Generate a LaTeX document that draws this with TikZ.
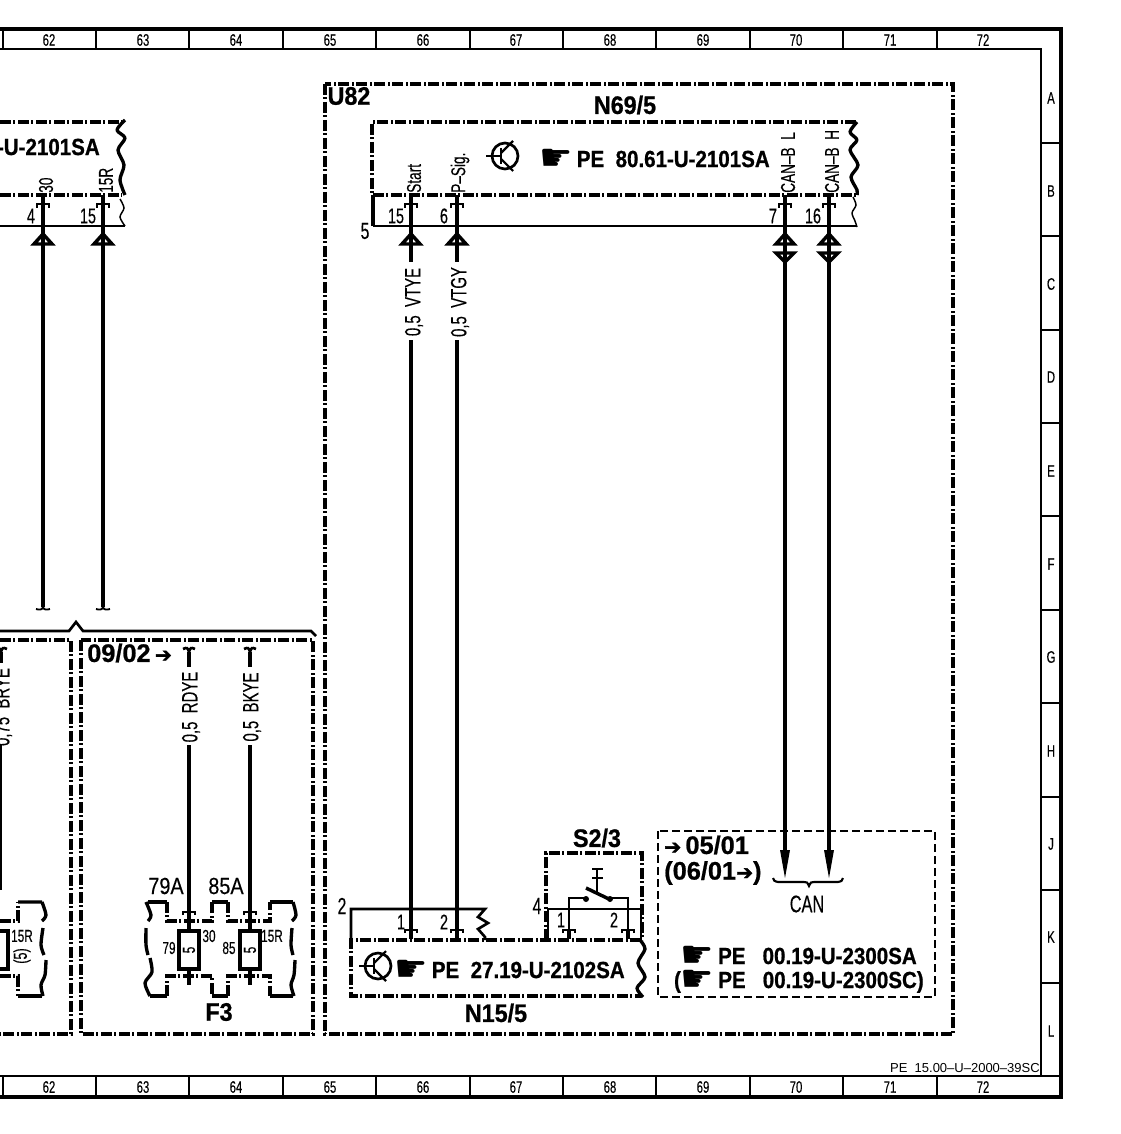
\documentclass[tikz,border=0pt]{standalone}
\usepackage{fontspec}
\setmainfont[FakeStretch=.88,BoldFeatures={FakeBold=.8}]{Liberation Sans}
\newfontfamily\thinfont[FakeStretch=.68,FakeBold=.25]{Liberation Sans}
\newfontfamily\midfont[FakeStretch=.85,FakeBold=.25]{Liberation Sans}
\newfontfamily\widefont{Liberation Sans}
\newfontfamily\titlefont[FakeStretch=.92,BoldFeatures={FakeBold=.8}]{Liberation Sans}
\newfontfamily\sheetfont[BoldFeatures={FakeBold=.8}]{Liberation Sans}
\newfontfamily\handfont[Scale=1.6]{DejaVu Sans}
\newfontfamily\pointfont[Scale=.8,FakeBold=2]{DejaVu Sans}
\newcommand{\handsign}{\smash{\raisebox{-2.5pt}{\handfont ☛}}}
\newcommand{\ptarrow}{\smash{\pointfont ➔}}
\tikzset{
  frameline/.style={line width=2.6pt},
  innerline/.style={line width=1.9pt},
  boxline/.style={line width=2.6pt,dash pattern=on 8pt off 2pt on 1.5pt off 2pt},
  dashbox/.style={line width=2.2pt,dash pattern=on 6pt off 3pt},
  wire/.style={line width=2.6pt},
  bus/.style={line width=2pt},
  hair/.style={line width=.8pt},
  wavy/.style={line width=2.5pt,line join=round},
  tag/.style={inner sep=0pt,font=\thinfont\fontsize{16}{16}\selectfont},
  gridtag/.style={inner sep=0pt,font=\thinfont\fontsize{12.5}{12.5}\selectfont},
  smalltag/.style={inner sep=0pt,font=\thinfont\fontsize{13}{13}\selectfont},
  bigtag/.style={inner sep=0pt,font=\midfont\fontsize{17.5}{17.5}\selectfont},
  pintag/.style={inner sep=0pt,rotate=90,anchor=west,font=\thinfont\fontsize{15}{15}\selectfont},
  wiretag/.style={inner sep=2pt,rotate=90,font=\thinfont\fontsize{16.5}{16.5}\selectfont},
  titletag/.style={inner sep=0pt,font=\titlefont\bfseries\fontsize{19}{19}\selectfont},
  sheettag/.style={inner sep=0pt,font=\sheetfont\bfseries\fontsize{19}{19}\selectfont},
  reftag/.style={inner sep=0pt,font=\bfseries\fontsize{17.5}{17.5}\selectfont},
  pintop/.pic={
    \draw[wire] (0,-9) -- (0,0);
    \draw[line width=2.2pt] (-6,4) -- (-6,0) -- (6,0) -- (6,4);},
  pinbot/.pic={
    \draw[wire] (0,9) -- (0,0);
    \draw[line width=2.2pt] (-6,3) -- (-6,0) -- (6,0) -- (6,3);},
  uptri/.pic={\draw[line width=2.6pt,line join=miter] (-9,11) -- (0,1) -- (9,11) -- cycle;},
  downtri/.pic={\draw[line width=2.6pt,line join=miter] (-9,1) -- (0,10) -- (9,1) -- cycle;},
  cutdown/.pic={\draw[line width=1.4pt] (-7,2) .. controls (-3,3) and (-1,3) .. (0,0) .. controls (1,3) and (3,3) .. (7,2);},
  cuttop/.pic={\draw[line width=2pt] (-6,-3) .. controls (-2,-5) and (-1,-4) .. (0,0) .. controls (1,-4) and (2,-5) .. (6,-3);},
  transistor/.pic={
    \draw[line width=2pt] (0,0) circle (13);
    \draw[line width=1pt] (-19,0) -- (-4,0);
    \draw[line width=2.2pt] (-4,-8) -- (-4,8);
    \draw[line width=1.6pt] (-4,-3) -- (8,-15) (-4,3) -- (8,15);},
  fuse/.pic={
    \draw[line width=2.4pt] (-10,-19) rectangle (10,19);
    \node[rotate=90,inner sep=0pt,font=\thinfont\fontsize{13}{13}\selectfont] {5};},
}
\begin{document}
\begin{tikzpicture}[x=.75pt,y=-.75pt]
\useasboundingbox (0,0) rectangle (1120,1134);

% sheet frame
\draw[frameline] (0,29) -- (1061,29) -- (1061,1097) -- (0,1097);
\draw[innerline] (0,49) -- (1041,49) -- (1041,1076) -- (0,1076);
\foreach \n/\lx/\tx in {62/49/96,63/143/189,64/236/283,65/330/376,66/423/470,67/516/563,68/610/656,69/703/750,70/796/843,71/890/937,72/983/3}{
  \node[gridtag] (top\n) at (\lx,40) {\n};
  \node[gridtag] (bot\n) at (\lx,1087) {\n};
  \draw[innerline] (\tx,29) -- (\tx,49);
  \draw[innerline] (\tx,1076) -- (\tx,1097);
}
\foreach \r/\ly/\ty in {A/98/143,B/191/236,C/284/330,D/377/423,E/471/516,F/564/610,G/657/703,H/751/797,J/844/890,K/937/983,L/1031/1076}{
  \node[gridtag] (row\r) at (1051,\ly) {\r};
  \draw[innerline] (1041,\ty) -- (1061,\ty);
}
\node[inner sep=0pt,anchor=east,font=\widefont\fontsize{9.75}{9.75}\selectfont] (sheetref) at (1040,1068) {PE\ \ 15.00–U–2000–39SC};

% U82 with N69/5
\draw[boxline] (325,84) rectangle (953,1034);
\node[titletag] (u82) at (349,96) {U82};
\node[titletag] (n695) at (625,105) {N69/5};
\draw[boxline] (856,122) -- (372,122) -- (372,195) -- (856,195);
\draw[wavy] plot[smooth] coordinates {(857,122) (850,132) (857,140) (850,150) (858,165) (851,177) (857,190) (857,195)};
\draw[line width=1.1pt] plot[smooth] coordinates {(853,197) (856,205) (852,213) (855,221) (857,227)};
\draw[wire] (373,195) -- (373,226);
\draw[hair] (373,226) -- (857,226);
\node[tag,font=\thinfont\fontsize{17.5}{17.5}\selectfont] (g5) at (365,231) {5};
\pic at (505,156) {transistor};
\node[reftag,anchor=east] (refn69) at (770,159) {\handsign\,PE\ \ 80.61-U-2101SA};

% pins of N69/5
\coordinate (pstart) at (411,204);
\coordinate (psig) at (457,204);
\coordinate (pcanl) at (785,204);
\coordinate (pcanh) at (829,204);
\pic at (pstart) {pintop};
\pic at (psig) {pintop};
\pic at (pcanl) {pintop};
\pic at (pcanh) {pintop};
\node[pintag] (tstart) at (414,193) {Start};
\node[pintag] (tsig) at (460,193) {P–Sig.};
\node[pintag] (tcanl) at (788,193) {CAN–B\ \ L};
\node[pintag] (tcanh) at (832,193) {CAN–B\ \ H};
\node[tag] (n15) at (396,216) {15};
\node[tag] (n6) at (444,216) {6};
\node[tag] (n7) at (773,216) {7};
\node[tag] (n16) at (813,216) {16};
\pic at (411,233) {uptri};
\pic at (457,233) {uptri};
\pic at (785,233) {uptri};
\pic at (829,233) {uptri};
\pic at (785,252) {downtri};
\pic at (829,252) {downtri};

% wires down to N15/5
\node[wiretag] (vtye) at (414,302) {0,5\ \ VTYE};
\node[wiretag] (vtgy) at (460,302) {0,5\ \ VTGY};
\coordinate (p1) at (411,930);
\coordinate (p2) at (457,930);
\draw[wire] (pstart) -- (411,262);
\draw[wire] (psig) -- (457,262);
\draw[wire] (411,340) -- (p1);
\draw[wire] (457,340) -- (p2);
\pic at (p1) {pinbot};
\pic at (p2) {pinbot};

% N15/5
\draw[bus] (351,940) -- (351,909) -- (485,909) -- (478,917) -- (488,923) -- (478,929) -- (485,937) -- (485,940);
\node[tag,font=\thinfont\fontsize{17.5}{17.5}\selectfont] (g2) at (342,906) {2};
\node[tag] (n1) at (401,922) {1};
\node[tag] (n2) at (444,922) {2};
\draw[boxline] (641,940) -- (351,940) -- (351,996) -- (641,996);
\draw[wavy] plot[smooth] coordinates {(640,940) (645,949) (638,963) (645,977) (637,988) (643,997)};
\pic at (378,966) {transistor};
\node[reftag,anchor=east] (refn15) at (625,970) {\handsign\,PE\ \ 27.19-U-2102SA};
\node[titletag] (n155) at (496,1013) {N15/5};

% S2/3
\node[titletag] (s23) at (597,838) {S2/3};
\draw[boxline] (546,940) -- (546,853) -- (642,853) -- (642,940);
\draw[bus] (548,940) -- (548,909) -- (641,909) -- (641,940);
\node[tag,font=\thinfont\fontsize{17.5}{17.5}\selectfont] (g4) at (537,906) {4};
\coordinate (s1) at (569,930);
\coordinate (s2) at (628,930);
\draw[bus] (s1) -- (569,898) -- (585,898);
\draw[bus] (s2) -- (628,898) -- (610,898);
\pic at (s1) {pinbot};
\pic at (s2) {pinbot};
\node[tag] (n1s) at (561,920) {1};
\node[tag] (n2s) at (614,920) {2};
\fill (586,899) circle (3) (610,899) circle (3);
\draw[line width=2.6pt] (586,888) -- (611,900);
\draw[line width=2.2pt] (597,869) -- (597,892);
\draw[line width=1.6pt] (592,869) -- (603,869);
\draw[line width=1.6pt] (592,878) -- (603,878);

% CAN box
\draw[dashbox] (658,831) rectangle (935,997);
\node[sheettag,anchor=west] (goto1) at (664,845) {\ptarrow\,05/01};
\node[sheettag,anchor=west] (goto2) at (664,873) {(06/01\ptarrow)};
\coordinate (cl) at (785,878);
\coordinate (ch) at (829,878);
\draw[wire] (pcanl) -- (785,851);
\draw[wire] (pcanh) -- (829,851);
\fill (780,850) -- (790,850) -- (cl) -- cycle;
\fill (824,850) -- (834,850) -- (ch) -- cycle;
\draw[line width=1.6pt] (773,878) .. controls (774,881) .. (778,882) -- (804,882) .. controls (807,882) .. (809,886) .. controls (811,882) .. (814,882) -- (838,882) .. controls (842,881) .. (843,878);
\node[tag,font=\thinfont\fontsize{18}{18}\selectfont] (can) at (807,904) {CAN};
\node[reftag,anchor=east] (ref23a) at (917,956) {\handsign\,PE\ \ \ 00.19-U-2300SA};
\node[reftag,anchor=east] (ref23b) at (924,982) {(\handsign\,PE\ \ \ 00.19-U-2300SC)};

% left part, top
\draw[boxline] (0,122) -- (122,122);
\draw[boxline] (0,195) -- (122,195);
\draw[wavy] plot[smooth] coordinates {(125,120) (117,130) (125,138) (118,150) (124,165) (120,180) (125,195)};
\draw[line width=1.1pt] plot[smooth] coordinates {(120,199) (124,208) (120,217) (125,226)};
\draw[hair] (0,226) -- (125,226);
\node[reftag,anchor=east] (refleft) at (100,147) {-U-2101SA};
\coordinate (p30) at (43,204);
\coordinate (p15r) at (103,204);
\pic at (p30) {pintop};
\pic at (p15r) {pintop};
\node[pintag] (t30) at (46,193) {30};
\node[pintag] (t15r) at (106,193) {15R};
\node[tag] (n4) at (31,216) {4};
\node[tag] (n15l) at (88,216) {15};
\pic at (43,233) {uptri};
\pic at (103,233) {uptri};
\coordinate (c30) at (43,607);
\coordinate (c15r) at (103,607);
\draw[wire] (p30) -- (c30);
\draw[wire] (p15r) -- (c15r);
\pic at (c30) {cutdown};
\pic at (c15r) {cutdown};

% lower boxes
\draw[bus] (0,631) -- (69,631) -- (76,622) -- (83,631) -- (311,631) -- (316,636);
\draw[boxline] (0,640) -- (71,640) -- (71,1034) -- (0,1034);
\draw[boxline] (81,640) rectangle (313,1034);
\node[sheettag,anchor=west] (sh0902) at (87,653) {09/02\,\ptarrow};

% F3 wires
\node[wiretag] (brye) at (3,707) {0,75\ \ BRYE};
\coordinate (cb) at (1,652);
\coordinate (bb) at (0,890);
\draw[wire] (0,745) -- (bb);
\draw[wire] (cb) -- (1,663);
\pic at (cb) {cuttop};
\node[wiretag] (rdye) at (191,707) {0,5\ \ RDYE};
\node[wiretag] (bkye) at (252,707) {0,5\ \ BKYE};
\coordinate (crd) at (189,652);
\coordinate (cbk) at (250,652);
\coordinate (p79) at (189,912);
\coordinate (p85) at (250,912);
\draw[wire] (crd) -- (189,667);
\draw[wire] (cbk) -- (250,667);
\draw[wire] (189,745) -- (p79);
\draw[wire] (250,745) -- (p85);
\pic at (crd) {cuttop};
\pic at (cbk) {cuttop};
\pic at (p79) {pinbot};
\pic at (p85) {pinbot};
\draw[wire] (189,921) -- (189,985);
\draw[wire] (250,921) -- (250,985);
\draw[fill=white,draw=none] (179,930) rectangle (201,970) (239,930) rectangle (261,970);
\pic at (189,950) {fuse};
\pic at (250,950) {fuse};
\node[bigtag] (a79) at (166,886) {79A};
\node[bigtag] (a85) at (226,886) {85A};
\node[smalltag] (t79) at (169,948) {79};
\node[smalltag] (t30f) at (209,936) {30};
\node[smalltag] (t85) at (229,948) {85};
\node[smalltag] (t15f) at (272,936) {15R};
\node[titletag] (f3) at (219,1012) {F3};

% F3 outline
\draw[boxline] (167,902) -- (167,921) -- (212,921) -- (212,902);
\draw[boxline] (228,902) -- (228,921) -- (270,921) -- (270,902);
\draw[boxline] (167,996) -- (167,976) -- (212,976) -- (212,996);
\draw[boxline] (228,996) -- (228,976) -- (270,976) -- (270,996);
\draw[wavy] (167,902) -- (148,902) (212,902) -- (228,902) (270,902) -- (293,902) (167,996) -- (150,996) (212,996) -- (228,996) (270,996) -- (293,996);
\draw[wavy] plot[smooth] coordinates {(146,902) (151,915) (148,921)};
\draw[wavy] plot[smooth] coordinates {(146,928) (146,945) (148,955)};
\draw[wavy] plot[smooth] coordinates {(150,958) (152,972) (145,983) (150,996)};
\draw[wavy] plot[smooth] coordinates {(293,902) (296,915) (292,921)};
\draw[wavy] plot[smooth] coordinates {(292,928) (291,945) (293,955)};
\draw[wavy] plot[smooth] coordinates {(295,960) (294,975) (291,985) (294,996)};

% relay cut by the sheet
\draw[boxline] (0,921) -- (18,921) -- (18,902);
\draw[boxline] (0,976) -- (18,976) -- (18,996);
\draw[wavy] (18,902) -- (42,902) plot[smooth] coordinates {(42,902) (46,915) (42,921)};
\draw[wavy] (18,996) -- (42,996);
\draw[wavy] plot[smooth] coordinates {(43,928) (41,945) (44,955)};
\draw[wavy] plot[smooth] coordinates {(46,960) (45,975) (41,985) (43,996)};
\draw[line width=2.4pt] (-12,931) rectangle (8,969);
\node[smalltag] (t15b) at (22,936) {15R};
\node[inner sep=0pt,rotate=90,font=\thinfont\fontsize{14}{14}\selectfont] (t5b) at (22,956) {(5)};
\end{tikzpicture}
\end{document}
